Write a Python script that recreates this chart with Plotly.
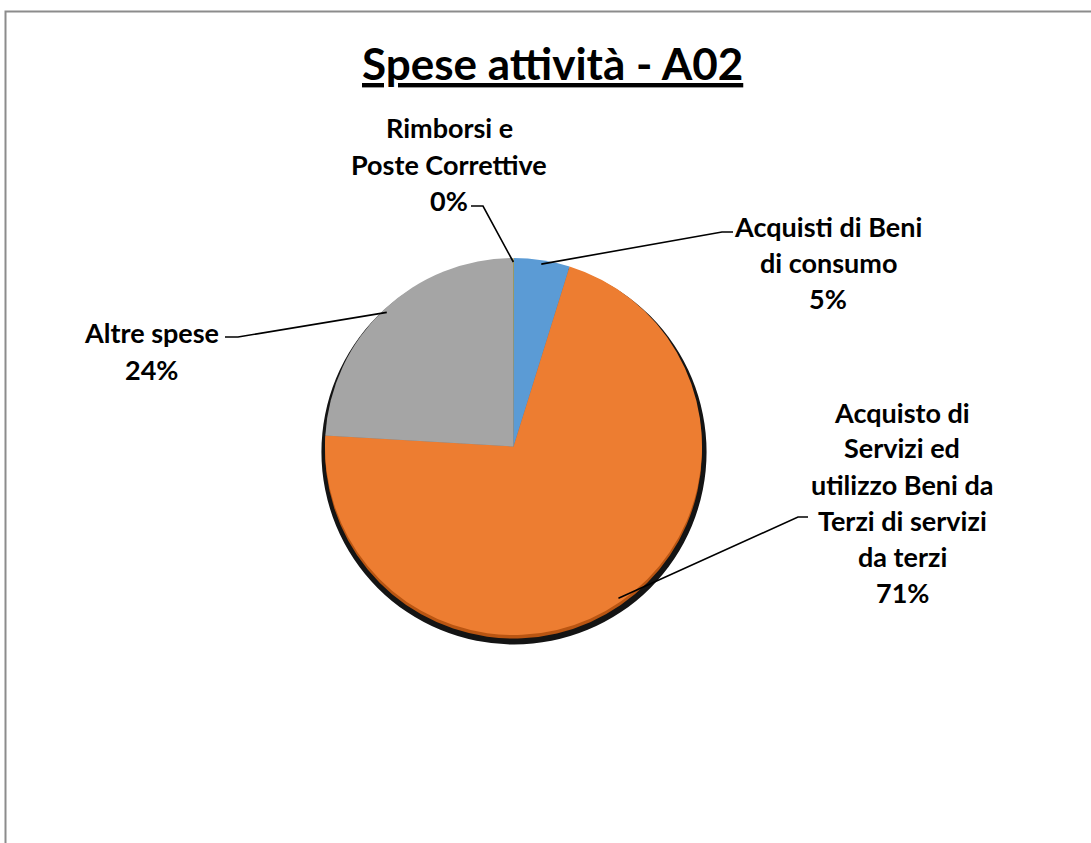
import math
import plotly.graph_objects as go

# ---- data ----
categories = [
    "Acquisti di Beni di consumo",
    "Acquisto di Servizi ed utilizzo Beni da Terzi di servizi da terzi",
    "Altre spese",
    "Rimborsi e Poste Correttive",
]
values = [4.8, 71.0, 24.0, 0.03]
label_lines = [
    ["Acquisti di Beni", "di consumo"],
    ["Acquisto di", "Servizi ed", "utilizzo Beni da", "Terzi di servizi", "da terzi"],
    ["Altre spese"],
    ["Rimborsi e", "Poste Correttive"],
]
title_text = "Spese attività - A02"

# ---- style ----
colors = ["#5B9BD5", "#ED7D31", "#A5A5A5", "#FFC000"]
rim_colors = ["#3F78B0", "#B95512", "#7A7A7A", "#BF9000"]
W, H = 1091, 843
CX, CY, R = 513.5, 446.5, 188.5
FONT = "Lato"
LS = 36  # line pitch in px

def X(x):
    return x / W

def Y(y):
    return 1 - y / H

# label layout: (center x, first-line y) and stub segment (text end, elbow)
label_pos = [(828, 226), (902, 412), (151, 333), (449, 128)]
stubs = [((733, 232), (722, 232)), ((808, 517), (798, 517)),
         ((225, 337), (238, 337)), ((471, 206), (483, 206))]

total = sum(values)
pcts = [round(v / total * 100) for v in values]

fig = go.Figure()

def pie_domain(cx, cy, r):
    return dict(x=[X(cx - r), X(cx + r)], y=[Y(cy + r), Y(cy - r)])

# shadow
fig.add_trace(go.Pie(values=[1], marker=dict(colors=["#141414"], line=dict(width=0)),
                     domain=pie_domain(CX + 0.5, CY + 5.5, R + 4), textinfo="none",
                     hoverinfo="skip", showlegend=False, sort=False))
# rim
fig.add_trace(go.Pie(values=values, marker=dict(colors=rim_colors, line=dict(width=0)),
                     domain=pie_domain(CX, CY + 3.5, R), textinfo="none",
                     hoverinfo="skip", showlegend=False, sort=False,
                     direction="clockwise", rotation=0))
# face
fig.add_trace(go.Pie(labels=categories, values=values,
                     marker=dict(colors=colors, line=dict(width=0)),
                     domain=pie_domain(CX, CY, R), textinfo="none",
                     showlegend=False, sort=False, direction="clockwise", rotation=0))

annotations = []
shapes = []
cum = 0.0
for i, v in enumerate(values):
    mid = (cum + v / 2) / total * 2 * math.pi
    cum += v
    ax = CX + (R - 4) * math.sin(mid)
    ay = CY - (R - 4) * math.cos(mid)
    (sx, sy), (ex, ey) = stubs[i]
    shapes.append(dict(type="path", xref="paper", yref="paper",
                       path=f"M {X(sx)} {Y(sy)} L {X(ex)} {Y(ey)} L {X(ax)} {Y(ay)}",
                       line=dict(color="black", width=1.6)))
    lx, ly = label_pos[i]
    lines = label_lines[i] + [f"{pcts[i]}%"]
    for j, t in enumerate(lines):
        annotations.append(dict(text=f"<b>{t}</b>", x=X(lx), y=Y(ly + j * LS),
                                xref="paper", yref="paper", xanchor="center",
                                yanchor="middle", showarrow=False,
                                font=dict(family=FONT, size=27, color="black")))

annotations.append(dict(text=f"<b>{title_text}</b>", x=X(552), y=Y(63),
                        xref="paper", yref="paper", xanchor="center", yanchor="middle",
                        showarrow=False,
                        font=dict(family=FONT, size=44, color="black", lineposition="under")))

# frame
shapes.append(dict(type="path", xref="paper", yref="paper",
                   path=f"M {X(5.5)} {Y(845)} L {X(5.5)} {Y(11.5)} L {X(1093)} {Y(11.5)}",
                   line=dict(color="#8C8C8C", width=2)))

fig.update_layout(width=W, height=H, margin=dict(l=0, r=0, t=0, b=0),
                  paper_bgcolor="white", plot_bgcolor="white",
                  annotations=annotations, shapes=shapes)

fig.write_html("out.html", config={"displayModeBar": False},
               post_script="document.body.style.margin='0';")
